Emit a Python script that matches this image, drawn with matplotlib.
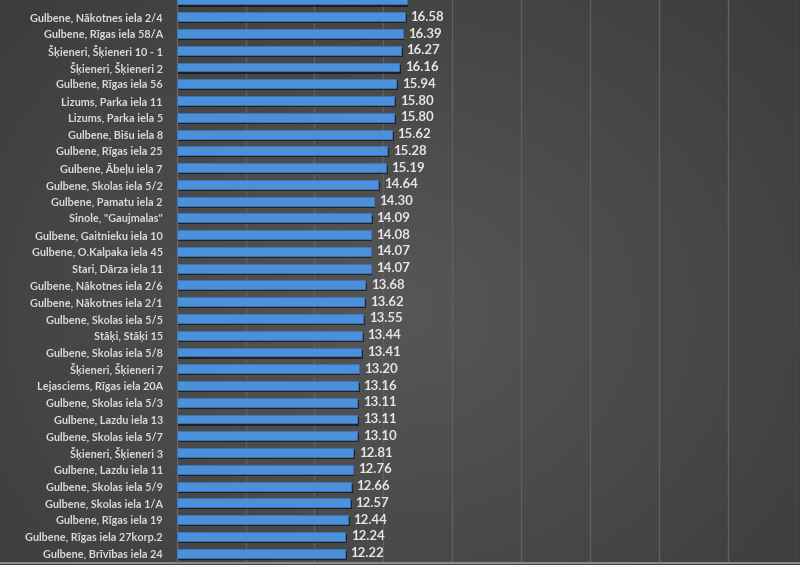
import numpy as np
import matplotlib.pyplot as plt
import matplotlib.patheffects as pe

plt.rcParams['font.family'] = ['Lato', 'DejaVu Sans']

# data, top to bottom (first bar is cut off at the top of the picture)
labels = ["", "Gulbene, Nākotnes iela 2/4", "Gulbene, Rīgas iela 58/A",
          "Šķieneri, Šķieneri 10 - 1", "Šķieneri, Šķieneri 2",
          "Gulbene, Rīgas iela 56", "Lizums, Parka iela 11", "Lizums, Parka iela 5",
          "Gulbene, Bišu iela 8", "Gulbene, Rīgas iela 25", "Gulbene, Ābeļu iela 7",
          "Gulbene, Skolas iela 5/2", "Gulbene, Pamatu iela 2", 'Sinole, "Gaujmalas"',
          "Gulbene, Gaitnieku iela 10", "Gulbene, O.Kalpaka iela 45",
          "Stari, Dārza iela 11", "Gulbene, Nākotnes iela 2/6",
          "Gulbene, Nākotnes iela 2/1", "Gulbene, Skolas iela 5/5", "Stāķi, Stāķi 15",
          "Gulbene, Skolas iela 5/8", "Šķieneri, Šķieneri 7",
          "Lejasciems, Rīgas iela 20A", "Gulbene, Skolas iela 5/3",
          "Gulbene, Lazdu iela 13", "Gulbene, Skolas iela 5/7", "Šķieneri, Šķieneri 3",
          "Gulbene, Lazdu iela 11", "Gulbene, Skolas iela 5/9",
          "Gulbene, Skolas iela 1/A", "Gulbene, Rīgas iela 19",
          "Gulbene, Rīgas iela 27korp.2", "Gulbene, Brīvības iela 24"]
values = [16.70, 16.58, 16.39, 16.27, 16.16, 15.94, 15.80, 15.80, 15.62, 15.28, 15.19,
          14.64, 14.30, 14.09, 14.08, 14.07, 14.07, 13.68, 13.62, 13.55, 13.44,
          13.41, 13.20, 13.16, 13.11, 13.11, 13.10, 12.81, 12.76, 12.66, 12.57,
          12.44, 12.24, 12.22]
xticks = [0, 5, 10, 15, 20, 25, 30, 35, 40, 45]

fig = plt.figure(figsize=(8, 5.65), dpi=100)

# dark gradient background
bg = fig.add_axes([0, 0, 1, 1], zorder=-10)
gx, gy = np.meshgrid(np.linspace(0, 1, 400), np.linspace(0, 1, 300))
d = np.sqrt(((gx - 0.5) / 0.9) ** 2 + ((gy - 0.45) / 1.1) ** 2)
shade = 0.34 - 0.14 * d
bg.imshow(np.dstack([shade, shade, shade]).clip(0, 1), aspect='auto',
          extent=[0, 1, 0, 1], origin='lower')
bg.axis('off')
bg.axhline(0.003, color='#9a9a9a', lw=1.2)

ax = fig.add_axes([0.2209, 0.0053, 0.775, 0.9947])
ax.set_facecolor('none')
y = np.arange(len(values))
bars = ax.barh(y, values, height=0.53, color='#4b90da', edgecolor='#3a78bf', lw=0.6,
               zorder=3)
for b in bars:
    b.set_path_effects([pe.SimplePatchShadow(offset=(1.2, -1.5), shadow_rgbFace='black',
                                             alpha=0.55), pe.Normal()])
# value labels (the cut-off top bar shows none)
for yi, v in zip(y[1:], values[1:]):
    ax.text(v + 0.4, yi, f"{v:.2f}", va='center', ha='left', fontsize=9.5,
            fontweight='bold', color='#e6e6e6', zorder=4)

ax.set_xlim(0, 45)
ax.set_ylim(33.53, 0.26)
ax.set_xticks(xticks)
ax.set_yticks(y)
ax.set_yticklabels(labels, fontsize=7.8, fontweight='bold', color='#dadada')
ax.tick_params(axis='y', length=0, pad=10)
ax.tick_params(axis='x', length=0, labelbottom=False)
ax.grid(axis='x', color='#5f5f5f', lw=1, zorder=0)
for s in ['top', 'right', 'bottom']:
    ax.spines[s].set_visible(False)
ax.spines['left'].set_color('#6a6a6a')

fig.savefig('out.png', dpi=100)
